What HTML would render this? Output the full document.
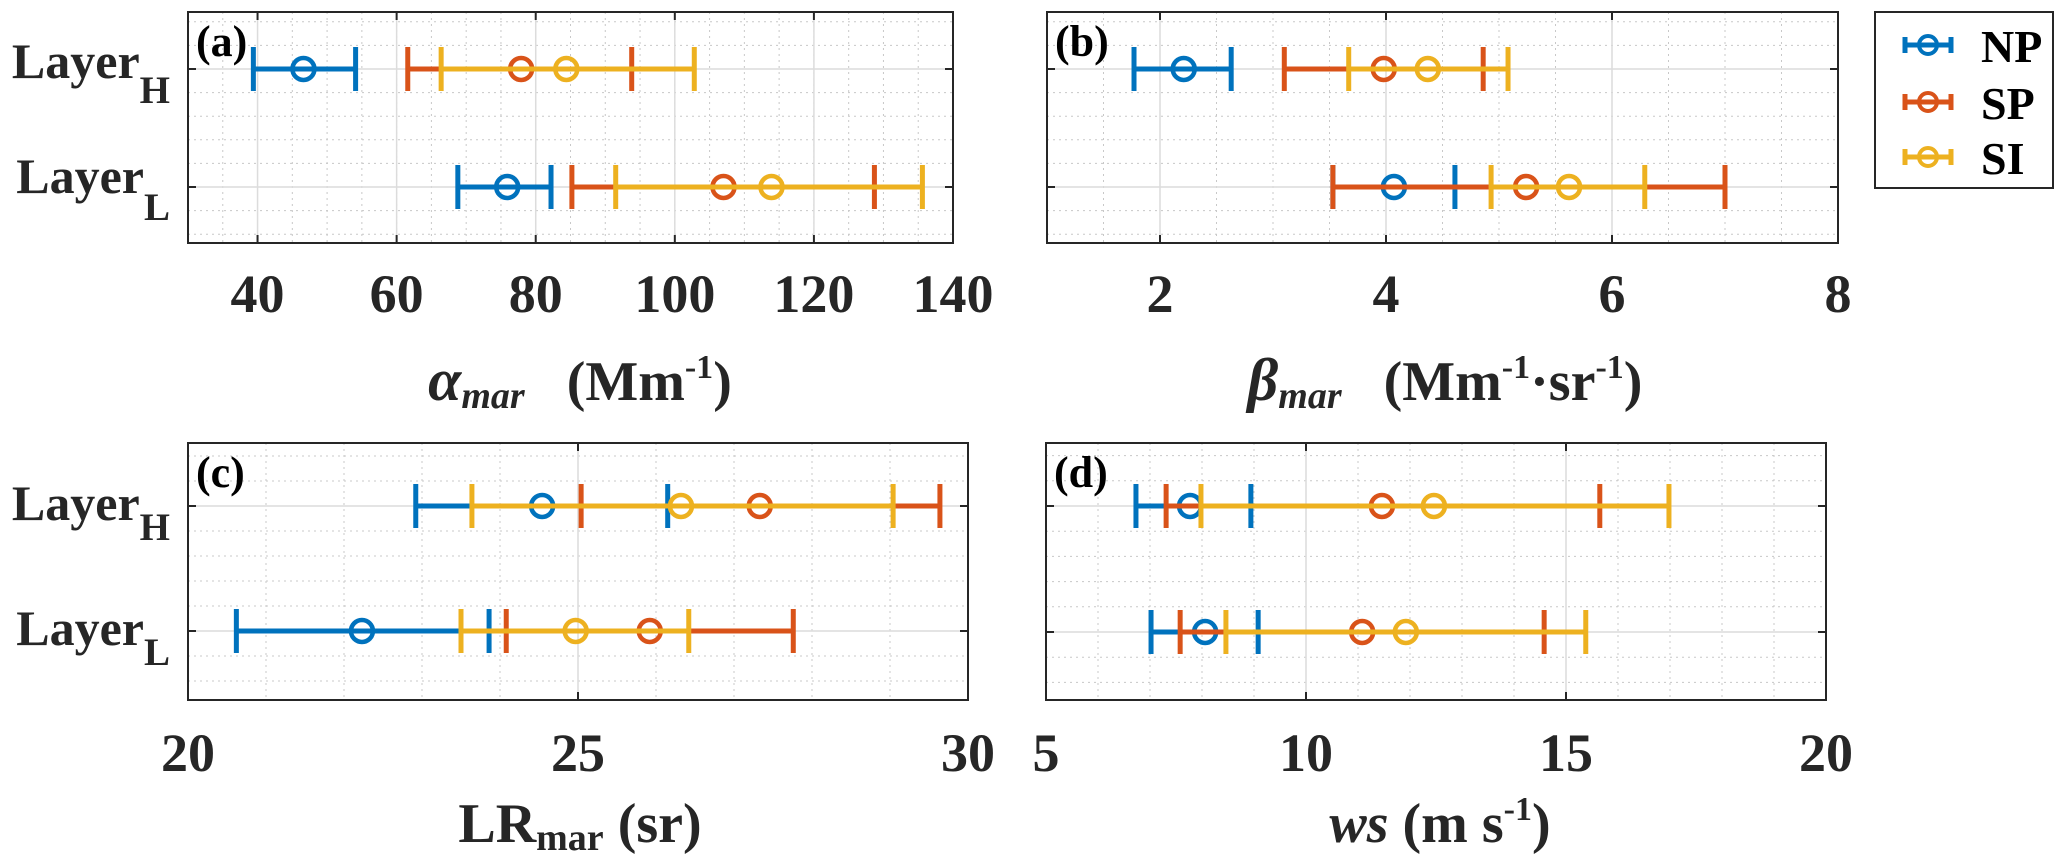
<!DOCTYPE html>
<html><head><meta charset="utf-8">
<style>
html,body{margin:0;padding:0;background:#fff;}
svg{display:block;}
svg text{font-family:"Liberation Serif","DejaVu Serif",serif !important;}
</style></head>
<body>
<svg id="fig" width="2067" height="854" viewBox="0 0 2067 854" xmlns="http://www.w3.org/2000/svg" style="position:absolute;left:0;top:0"></svg>
<script>
// ---- data (rows: [Layer_H, Layer_L]) ----
const categories = ['Layer_H', 'Layer_L'];
const seriesNames = ['NP', 'SP', 'SI'];
// panel a: alpha_mar
const aLow  = {NP:[39.4, 68.8],  SP:[61.6, 85.2],  SI:[66.4, 91.5]};
const aMid  = {NP:[46.6, 75.9],  SP:[77.9, 107.0], SI:[84.4, 113.9]};
const aHigh = {NP:[54.1, 82.2],  SP:[93.8, 128.7], SI:[102.8, 135.6]};
const aTicks = [40, 60, 80, 100, 120, 140];
// panel b: beta_mar
const bLow  = {NP:[1.77, 3.53], SP:[3.10, 3.53], SI:[3.67, 4.93]};
const bMid  = {NP:[2.21, 4.07], SP:[3.98, 5.24], SI:[4.37, 5.62]};
const bHigh = {NP:[2.63, 4.61], SP:[4.86, 7.00], SI:[5.08, 6.29]};
const bTicks = [2, 4, 6, 8];
// panel c: LR_mar
const cLow  = {NP:[22.92, 20.62], SP:[25.04, 24.08], SI:[23.64, 23.50]};
const cMid  = {NP:[24.54, 22.23], SP:[27.33, 25.92], SI:[26.32, 24.97]};
const cHigh = {NP:[26.15, 23.86], SP:[29.64, 27.76], SI:[29.04, 26.42]};
const cTicks = [20, 25, 30];
// panel d: ws
const dLow  = {NP:[6.73, 7.02], SP:[7.31, 7.58], SI:[7.98, 8.46]};
const dMid  = {NP:[7.77, 8.06], SP:[11.46, 11.08], SI:[12.46, 11.92]};
const dHigh = {NP:[8.94, 9.08], SP:[15.65, 14.58], SI:[16.98, 15.38]};
const dTicks = [5, 10, 15, 20];

const colors = {NP:'#0072BD', SP:'#D95319', SI:'#EDB120'};
const FONT = '"Liberation Serif","DejaVu Serif",serif';
const NS = 'http://www.w3.org/2000/svg';
const svg = document.getElementById('fig');
function mk(tag, attrs, parent){
  const e = document.createElementNS(NS, tag);
  for (const k in attrs) e.setAttribute(k, attrs[k]);
  if (tag === 'text') e.style.fontFamily = FONT;
  (parent||svg).appendChild(e);
  return e;
}

function panel(cfg){
  const g = mk('g', {});
  
  
  const {x0,x1,y0,y1,xmin,xmax,yH,yL} = cfg;
  const sx = v => x0 + (v - xmin) / (xmax - xmin) * (x1 - x0);
  const rowY = [yH, yL];
  const unitY = yL - yH;
  for (let v = xmin; v <= xmax + 1e-9; v += cfg.minor){
    const X = sx(v);
    const ln = mk('line', {x1:X, x2:X, y1:y0, y2:y1, stroke:'#c8c8c8', 'stroke-width':1, 'stroke-dasharray':'2,4'}, g);
    
    
  }
  for (let k = -3; k <= 8; k++){
    const Y = yH + k * 0.2 * unitY;
    if (Y <= y0 || Y >= y1 || k % 5 === 0) continue;
    const ln = mk('line', {x1:x0, x2:x1, y1:Y, y2:Y, stroke:'#c8c8c8', 'stroke-width':1, 'stroke-dasharray':'2,4'}, g);
    
    
  }
  cfg.ticks.forEach(t => {
    const X = sx(t);
    const ln = mk('line', {x1:X, x2:X, y1:y0, y2:y1, stroke:'#dcdcdc', 'stroke-width':1.5}, g);
    
    
    mk('line', {x1:X, x2:X, y1:y1, y2:y1-8, stroke:'#262626', 'stroke-width':2}, g);
    mk('line', {x1:X, x2:X, y1:y0, y2:y0+8, stroke:'#262626', 'stroke-width':2}, g);
    const tx = mk('text', {x:X, y:cfg.tickY, 'text-anchor':'middle', 'font-size':54, 'font-weight':'bold', fill:'#262626'}, g);
    tx.textContent = t;
    
    
  });
  rowY.forEach(Y => {
    const ln = mk('line', {x1:x0, x2:x1, y1:Y, y2:Y, stroke:'#dcdcdc', 'stroke-width':1.5}, g);
    
    
    mk('line', {x1:x0, x2:x0+8, y1:Y, y2:Y, stroke:'#262626', 'stroke-width':2}, g);
    mk('line', {x1:x1, x2:x1-8, y1:Y, y2:Y, stroke:'#262626', 'stroke-width':2}, g);
  });
  seriesNames.forEach(s => {
    for (let i = 0; i < categories.length; i++){
      const Y = rowY[i];
      const lo = sx(cfg.low[s][i]), mid = sx(cfg.mid[s][i]), hi = sx(cfg.high[s][i]);
      const eg = mk('g', {stroke:colors[s], 'stroke-width':5, fill:'none'}, g);
      
      
      mk('line', {x1:lo, x2:hi, y1:Y, y2:Y}, eg);
      mk('line', {x1:lo, x2:lo, y1:Y-22, y2:Y+22}, eg);
      mk('line', {x1:hi, x2:hi, y1:Y-22, y2:Y+22}, eg);
      mk('circle', {cx:mid, cy:Y, r:11, 'stroke-width':4.5}, eg);
    }
  });
  const fr = mk('rect', {x:x0, y:y0, width:x1-x0, height:y1-y0, fill:'none', stroke:'#262626', 'stroke-width':2}, g);
  
  
  const pl = mk('text', {x:x0+8, y:y0+44, 'font-size':44, 'font-weight':'bold', fill:'#000'}, g);
  pl.textContent = cfg.label;
  
  
}

panel({name:'panel-a-alpha', label:'(a)', x0:188, x1:953, y0:12, y1:243, xmin:30, xmax:140, yH:69, yL:187,
  minor:5, ticks:aTicks, tickY:312, low:aLow, mid:aMid, high:aHigh});
panel({name:'panel-b-beta', label:'(b)', x0:1047, x1:1838, y0:12, y1:243, xmin:1, xmax:8, yH:69, yL:187,
  minor:0.5, ticks:bTicks, tickY:312, low:bLow, mid:bMid, high:bHigh});
panel({name:'panel-c-lr', label:'(c)', x0:188, x1:968, y0:443, y1:700, xmin:20, xmax:30, yH:506, yL:631,
  minor:1, ticks:cTicks, tickY:771, low:cLow, mid:cMid, high:cHigh});
panel({name:'panel-d-ws', label:'(d)', x0:1046, x1:1826, y0:443, y1:700, xmin:5, xmax:20, yH:506, yL:632,
  minor:1, ticks:dTicks, tickY:771, low:dLow, mid:dMid, high:dHigh});

const lg = mk('g', {});


mk('rect', {x:1875, y:12, width:178, height:176, fill:'#fff', stroke:'#262626', 'stroke-width':2}, lg);
const legY = [45, 102, 157];
seriesNames.forEach((s, i) => {
  const Y = legY[i];
  const e = mk('g', {}, lg);
  
  
  const ic = mk('g', {stroke:colors[s], 'stroke-width':5, fill:'none'}, e);
  mk('line', {x1:1905, x2:1951, y1:Y, y2:Y}, ic);
  mk('line', {x1:1905, x2:1905, y1:Y-8, y2:Y+8}, ic);
  mk('line', {x1:1951, x2:1951, y1:Y-8, y2:Y+8}, ic);
  mk('circle', {cx:1928, cy:Y, r:9, 'stroke-width':4}, ic);
  const t = mk('text', {x:1981, y:Y+17, 'font-size':46, 'font-weight':'bold', fill:'#000'}, e);
  t.textContent = s;
});
</script>

<svg style="position:absolute;left:0;top:0" width="2067" height="854" font-weight="bold" fill="#262626">
  <text x="170" y="78" text-anchor="end" font-size="50">Layer<tspan font-size="39" dy="25">H</tspan></text>
  <text x="170" y="193" text-anchor="end" font-size="50">Layer<tspan font-size="39" dy="27">L</tspan></text>
  <text x="170" y="520" text-anchor="end" font-size="50">Layer<tspan font-size="39" dy="20">H</tspan></text>
  <text x="170" y="645" text-anchor="end" font-size="50">Layer<tspan font-size="39" dy="20">L</tspan></text>
  <text x="580" y="400" text-anchor="middle" font-size="56" xml:space="preserve"><tspan font-style="italic" font-size="60">α</tspan><tspan font-style="italic" font-size="38" dy="8">mar</tspan><tspan dy="-8">   (Mm</tspan><tspan font-size="34" dy="-22">-1</tspan><tspan dy="22">)</tspan></text>
  <text x="1445" y="400" text-anchor="middle" font-size="56" xml:space="preserve"><tspan font-style="italic" font-size="60">β</tspan><tspan font-style="italic" font-size="38" dy="8">mar</tspan><tspan dy="-8">   (Mm</tspan><tspan font-size="34" dy="-22">-1</tspan><tspan dy="22">·sr</tspan><tspan font-size="34" dy="-22">-1</tspan><tspan dy="22">)</tspan></text>
  <text x="580" y="842" text-anchor="middle" font-size="56">LR<tspan font-size="38" dy="8">mar</tspan><tspan dy="-8"> (sr)</tspan></text>
  <text x="1440" y="842" text-anchor="middle" font-size="56"><tspan font-style="italic">ws</tspan> (m s<tspan font-size="34" dy="-22">-1</tspan><tspan dy="22">)</tspan></text>
</svg>
</body></html>
